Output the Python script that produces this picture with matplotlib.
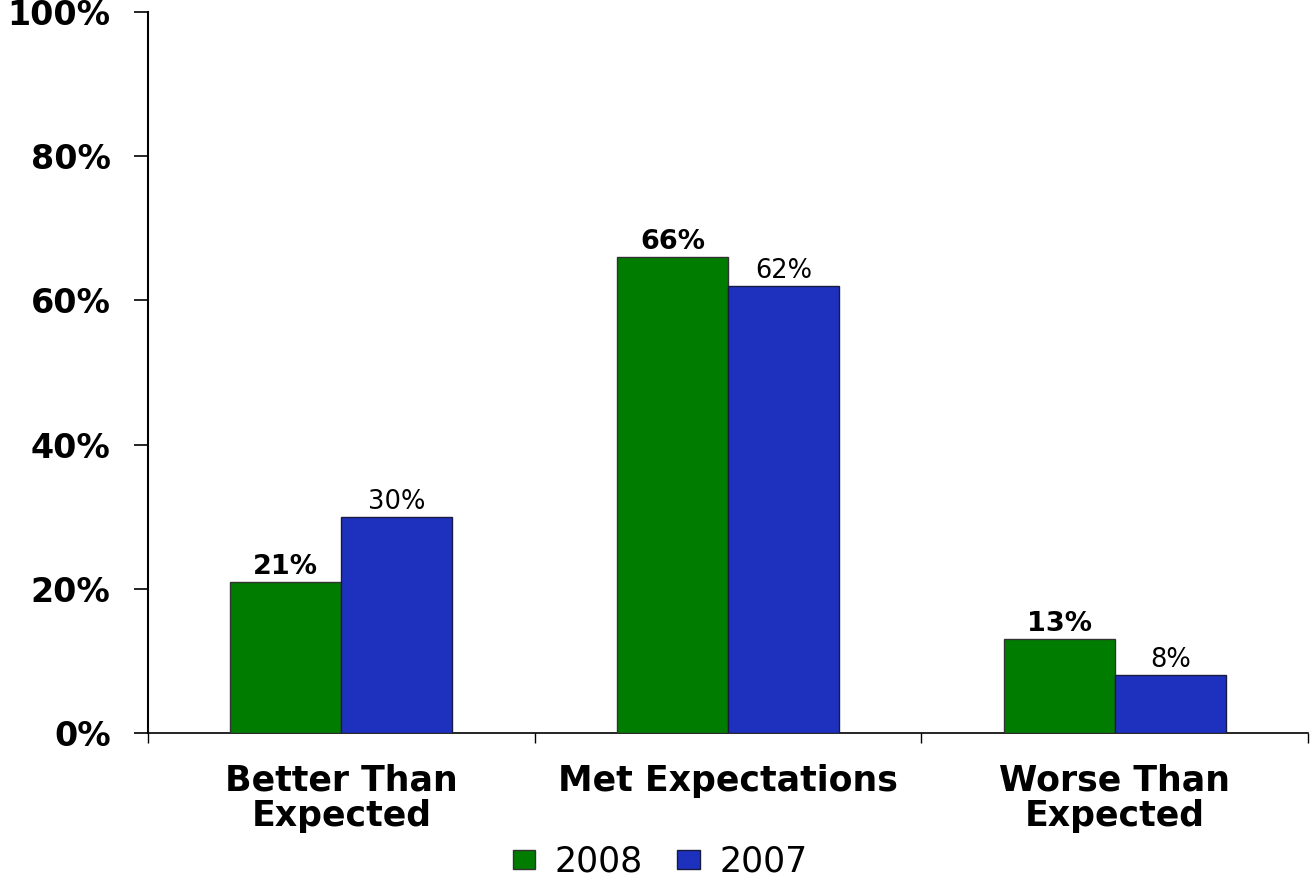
import matplotlib
matplotlib.use("Agg")
import matplotlib.pyplot as plt
import numpy as np

categories = ["Better Than\nExpected", "Met Expectations", "Worse Than\nExpected"]
series_names = ["2008", "2007"]
values_2008 = [21, 66, 13]
values_2007 = [30, 62, 8]
yticks = [0, 20, 40, 60, 80, 100]
ytick_labels = ["0%", "20%", "40%", "60%", "80%", "100%"]

GREEN = "#007d00"
BLUE = "#1e30be"

plt.rcParams['font.family'] = ['DejaVu Sans']

fig = plt.figure(figsize=(13.11, 8.82), dpi=100)
ax = fig.add_axes([148/1311, 1-733/882, (1308-148)/1311, (733-12)/882])

x = np.arange(len(categories))
w = 0.287
b1 = ax.bar(x - w/2, values_2008, w, color=GREEN, edgecolor="#333333", linewidth=1, label=series_names[0], zorder=3)
b2 = ax.bar(x + w/2, values_2007, w, color=BLUE, edgecolor="#1a1a40", linewidth=1, label=series_names[1], zorder=3)

for rect, v in zip(b1, values_2008):
    ax.annotate(f"{v}%", (rect.get_x() + rect.get_width()/2, v), xytext=(0, 1.5),
                textcoords="offset points", ha="center", va="bottom",
                fontsize=19.5, fontweight="bold", color="black")
for rect, v in zip(b2, values_2007):
    ax.annotate(f"{v}%", (rect.get_x() + rect.get_width()/2, v), xytext=(0, 1.5),
                textcoords="offset points", ha="center", va="bottom",
                fontsize=18.5, color="black")

ax.set_xlim(-0.5, len(categories) - 0.5)
ax.set_ylim(0, 100)
ax.set_yticks(yticks)
ax.set_yticklabels(ytick_labels, fontsize=24, fontweight="bold")
ax.tick_params(axis="y", direction="out", length=10, width=1.2, pad=17)

ax.set_xticks(np.arange(len(categories) + 1) - 0.5)
ax.set_xticklabels([])
ax.tick_params(axis="x", which="major", direction="out", length=7, width=1)
ax.set_xticks(x, minor=True)
ax.set_xticklabels(categories, minor=True, fontsize=25, fontweight="bold", linespacing=1.04)
ax.tick_params(axis="x", which="minor", length=0, pad=22)

for s in ["top", "right"]:
    ax.spines[s].set_visible(False)
ax.spines["left"].set_linewidth(1.5)
ax.spines["bottom"].set_linewidth(1.2)

fig.legend(handles=[b1, b2], labels=series_names, loc="center",
           bbox_to_anchor=(660/1311, 1-862/882), ncol=2, frameon=False,
           fontsize=25, handlelength=0.65, handleheight=0.45, handletextpad=0.55,
           columnspacing=1.0)

fig.savefig("out.png", dpi=100)
